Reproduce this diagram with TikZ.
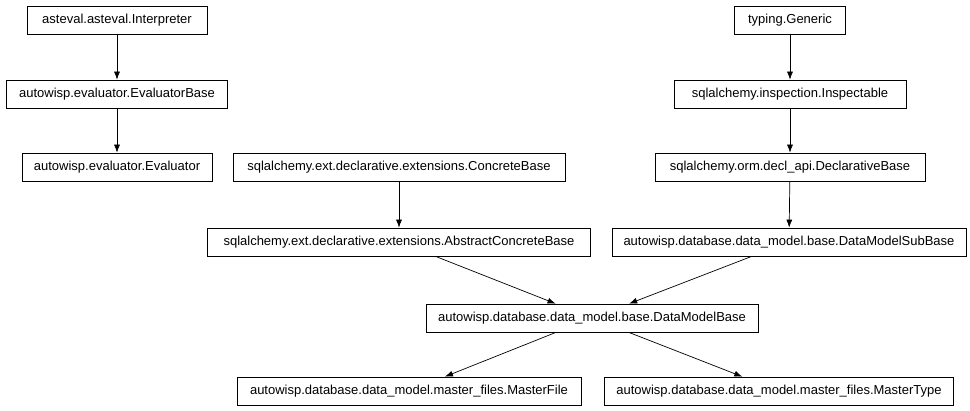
\documentclass[tikz,border=0pt]{standalone}
\usepackage{fontspec}
\setmainfont{Liberation Sans}
\usetikzlibrary{arrows.meta}
\begin{document}
\begin{tikzpicture}[x=1pt,y=-1pt,
  box/.style={draw,line width=0.7pt,minimum height=28pt,inner xsep=2pt,font=\fontsize{13}{15}\selectfont},
  edge/.style={draw,line width=0.7pt,-{Latex[length=8pt,width=6pt]}}]
\useasboundingbox[fill=white] (0,0) rectangle (970,411);
\node[box,minimum width=180pt] (a) at (117,20) {asteval.asteval.Interpreter};
\node[box,minimum width=221pt] (b) at (117,94) {autowisp.evaluator.EvaluatorBase};
\node[box,minimum width=190pt] (c) at (117,167) {autowisp.evaluator.Evaluator};
\node[box,minimum width=111pt] (d) at (790,20) {typing.Generic};
\node[box,minimum width=232pt] (e) at (790,94) {sqlalchemy.inspection.Inspectable};
\node[box,minimum width=270pt] (f) at (790,167) {sqlalchemy.orm.decl\_api.DeclarativeBase};
\node[box,minimum width=332pt] (g) at (399,167) {sqlalchemy.ext.declarative.extensions.ConcreteBase};
\node[box,minimum width=383pt] (h) at (399,242) {sqlalchemy.ext.declarative.extensions.AbstractConcreteBase};
\node[box,minimum width=354pt] (i) at (789,242) {autowisp.database.data\_model.base.DataModelSubBase};
\node[box,minimum width=332pt] (j) at (592,318) {autowisp.database.data\_model.base.DataModelBase};
\node[box,minimum width=344pt] (k) at (409,391) {autowisp.database.data\_model.master\_files.MasterFile};
\node[box,minimum width=349pt] (l) at (779,391) {autowisp.database.data\_model.master\_files.MasterType};
\draw[edge] (a) -- (b);
\draw[edge] (b) -- (c);
\draw[edge] (d) -- (e);
\draw[edge] (e) -- (f);
\draw[edge] (g) -- (h);
\draw[edge] (f) -- (i);
\draw[edge] (h) -- (j);
\draw[edge] (i) -- (j);
\draw[edge] (j) -- (k);
\draw[edge] (j) -- (l);
\end{tikzpicture}
\end{document}
